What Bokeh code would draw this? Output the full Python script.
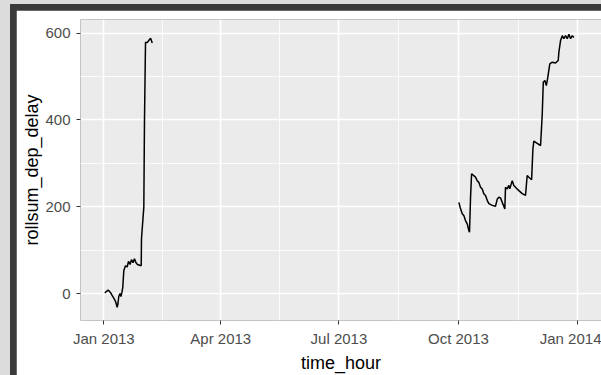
import pandas as pd
from bokeh.plotting import figure
from bokeh.layouts import column
from bokeh.models import FixedTicker, DatetimeTickFormatter, Range1d
from bokeh.embed import file_html
from bokeh.resources import INLINE

base = pd.Timestamp("2013-01-01")

# January-February stretch: days since 2013-01-01, rolling sum of dep_delay
days_jan = [0.8, 2.1, 3.4, 5.2, 6.5, 7.9, 9.0, 10.3, 10.9, 11.5, 12.5, 13.2, 13.9, 14.6,
            15.4, 16.7, 18.0, 19.0, 20.2, 21.3, 22.5, 23.6, 24.8, 25.9, 28.8, 29.0,
            30.8, 31.3, 32.1, 33.4, 34.6, 36.0, 37.3]
vals_jan = [1, 5, 8, 2, -5, -12, -18, -32, -23, -7, 0, -7, 2, 14,
            53, 64, 61, 74, 67, 78, 71, 80, 71, 67, 64, 126,
            199, 395, 579, 578, 583, 588, 577]

# October-December stretch
days_oct = [273.3, 274.6, 275.9, 277.1, 278.4, 279.8, 281.0, 281.5, 282.3, 283.1,
            286.1, 287.4, 288.7, 290.0, 291.3, 292.5, 293.8, 295.2, 296.4, 299.0,
            301.5, 302.9, 304.1, 305.4, 306.7, 308.7, 309.2, 310.5, 311.8, 312.5,
            314.4, 315.6, 318.2, 319.5, 322.1, 324.6, 325.9, 327.2, 329.3, 330.3,
            331.0, 333.6, 336.2, 337.5, 338.3, 339.5, 340.6, 341.6, 343.3, 345.2,
            347.7, 349.8, 350.3, 351.6, 352.9, 354.1, 355.4, 356.7, 358.0, 359.3,
            360.6, 361.8]
vals_oct = [210, 195, 184, 180, 168, 160, 145, 141, 222, 276,
            268, 260, 256, 245, 241, 230, 226, 214, 207, 203,
            201, 218, 222, 220, 210, 195, 245, 241, 249, 241,
            260, 249, 241, 237, 230, 226, 272, 268, 262, 333,
            351, 346, 341, 414, 487, 491, 479, 495, 529, 533,
            531, 537, 556, 583, 594, 587, 594, 587, 597, 587,
            594, 590]

x_tick_dates = ["2013-01-01", "2013-04-01", "2013-07-01", "2013-10-01", "2014-01-01"]
x_minor_dates = ["2013-02-15", "2013-05-16 12:00", "2013-08-16", "2013-11-16"]
y_ticks = [0, 200, 400, 600]
y_minor = [100, 300, 500]

t_jan = base + pd.to_timedelta(days_jan, unit="D")
t_oct = base + pd.to_timedelta(days_oct, unit="D")

def ms(s):
    return pd.Timestamp(s).value / 1e6

FONT = "Liberation Sans"

p = figure(width=585, height=365, x_axis_type="datetime",
           output_backend="svg", toolbar_location=None,
           x_range=Range1d(base - pd.Timedelta(days=17.94), base + pd.Timedelta(days=383.1)),
           y_range=Range1d(-62.2, 631.3),
           min_border_left=64, min_border_right=0, min_border_top=9, min_border_bottom=55)

p.background_fill_color = "#ebebeb"
p.border_fill_color = "white"
p.outline_line_color = None

p.line(t_jan, vals_jan, line_color="black", line_width=1.5)
p.line(t_oct, vals_oct, line_color="black", line_width=1.5)

p.xaxis.ticker = FixedTicker(ticks=[ms(d) for d in x_tick_dates],
                             minor_ticks=[ms(d) for d in x_minor_dates])
p.xaxis.formatter = DatetimeTickFormatter(days="%b %Y", months="%b %Y", years="%b %Y")
p.yaxis.ticker = FixedTicker(ticks=y_ticks, minor_ticks=y_minor)

p.xaxis.axis_label = "time_hour"
p.yaxis.axis_label = "rollsum_dep_delay"

for ax in (p.xaxis, p.yaxis):
    ax.axis_line_color = None
    ax.major_tick_line_color = "#333333"
    ax.major_tick_line_width = 1
    ax.major_tick_in = 0
    ax.major_tick_out = 4
    ax.minor_tick_in = 0
    ax.minor_tick_out = 0
    ax.minor_tick_line_color = None
    ax.major_label_text_font = FONT
    ax.major_label_text_font_size = "15px"
    ax.major_label_text_color = "#4d4d4d"
    ax.axis_label_text_font = FONT
    ax.axis_label_text_font_size = "18px"
    ax.axis_label_text_font_style = "normal"
    ax.axis_label_text_color = "black"

p.yaxis.major_label_standoff = 6
p.xaxis.major_label_standoff = 5
p.yaxis.axis_label_standoff = 0
p.xaxis.axis_label_standoff = 3

for g in (p.xgrid, p.ygrid):
    g.grid_line_color = "white"
    g.grid_line_width = 1.6
    g.minor_grid_line_color = "white"
    g.minor_grid_line_width = 0.8

inner = column(p, styles={"background-color": "#3a3a3a", "padding": "6px 0px 0px 6px"})
page = column(inner, styles={"background-color": "#dcdcdc", "padding": "4px 0px 0px 10px"})

open("out.html", "w").write(file_html(page, INLINE))
